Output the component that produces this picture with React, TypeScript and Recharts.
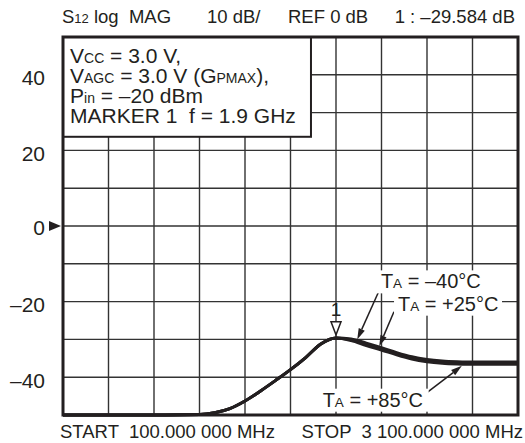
import React from 'react';
import {
  LineChart,
  Line,
  XAxis,
  YAxis,
  CartesianGrid,
  ReferenceArea,
  ReferenceDot,
  ReferenceLine,
} from 'recharts';

// ---- data ----
const freqMHz = [100, 400, 700, 1000, 1100, 1200, 1300, 1400, 1500, 1600, 1700, 1800, 1900, 2000, 2100, 2200, 2300, 2400, 2500, 2600, 2700, 2800, 2900, 3000, 3100];
const s12Plus25 = [-50, -50, -50, -49.9, -49.4, -48.3, -46.3, -43.7, -40.9, -38.0, -34.8, -31.2, -29.6, -30.1, -31.3, -32.5, -33.8, -34.9, -35.6, -36.0, -36.2, -36.3, -36.3, -36.3, -36.3];
const s12Minus40 = [-50, -50, -50, -49.9, -49.4, -48.3, -46.3, -43.7, -40.9, -38.0, -34.8, -31.2, -29.6, -29.9, -31.0, -32.2, -33.5, -34.6, -35.3, -35.7, -35.9, -36.0, -36.0, -36.0, -36.0];
const s12Plus85 = [-50, -50, -50, -49.9, -49.4, -48.3, -46.3, -43.7, -40.9, -38.0, -34.8, -31.2, -29.6, -30.3, -31.6, -32.8, -34.1, -35.2, -35.9, -36.3, -36.5, -36.6, -36.6, -36.6, -36.6];

const xTicks = [100, 400, 700, 1000, 1300, 1600, 1900, 2200, 2500, 2800, 3100];
const yTicks = [-50, -40, -30, -20, -10, 0, 10, 20, 30, 40, 50];
const yLabelValues = [40, 20, 0, -20, -40];

const startLabel = 'START  100.000 000 MHz';
const stopLabel = 'STOP  3 100.000 000 MHz';

const markerFreq = 1900;
const markerValue = -29.584;
const markerName = '1';

// annotation anchors [freq MHz, dB]
const tempLabels = [
  { temp: '–40°C', at: [2196, -16.5], tail: [2190, -16.6], tip: [2040, -30.0], w: 108 },
  { temp: '+25°C', at: [2309, -22.4], tail: [2282, -22.7], tip: [2185, -31.8], w: 108 },
  { temp: '+85°C', at: [1812, -47.8], tail: [2493, -44.3], tip: [2730, -37.0], w: 110 },
];

const boxRange = { x1: 100, x2: 1735, y1: 23.6, y2: 50 };

const rows = freqMHz.map((f, i) => ({
  f,
  t25: s12Plus25[i],
  tm40: s12Minus40[i],
  t85: s12Plus85[i],
}));

const FONT = '"Liberation Sans", Arial, Helvetica, sans-serif';
const INK = '#231f20';

const fmtDb = (v: number) => (v < 0 ? '–' + Math.abs(v) : String(v));

const YTick = (props: any) => {
  const { x, y, payload } = props;
  const v = payload.value;
  if (!yLabelValues.includes(v)) return <g />;
  return (
    <g>
      <text
        x={x - 18}
        y={y + (v === 0 ? 1 : 3)}
        textAnchor="end"
        dominantBaseline="central"
        fontSize={21}
        fontFamily={FONT}
        fill={INK}
      >
        {fmtDb(v)}
      </text>
      {v === 0 && (
        <polygon points={`${x - 14},${y - 5} ${x - 2},${y} ${x - 14},${y + 5}`} fill={INK} />
      )}
    </g>
  );
};

const XTick = (props: any) => {
  const { x, y, payload } = props;
  const v = payload.value;
  if (v === xTicks[0]) {
    return (
      <text x={x - 3} y={y + 23} textAnchor="start" fontSize={18.5} fontFamily={FONT} fill={INK} style={{ whiteSpace: 'pre' }}>
        {startLabel}
      </text>
    );
  }
  if (v === xTicks[xTicks.length - 1]) {
    return (
      <text x={x + 5} y={y + 23} textAnchor="end" fontSize={18.5} fontFamily={FONT} fill={INK} style={{ whiteSpace: 'pre' }}>
        {stopLabel}
      </text>
    );
  }
  return <g />;
};

const Frame = (p: any) => {
  const { x, y, width, height } = p;
  const ty = y - 14;
  const tp = { fontSize: 18.5, fontFamily: FONT, fill: INK };
  return (
    <g>
      <rect x={x} y={y} width={width} height={height} fill="none" stroke={INK} strokeWidth={3} />
      <text x={x - 1} y={ty} {...tp} style={{ whiteSpace: 'pre' }}>
        S<tspan fontSize={13}>12</tspan> log  MAG
      </text>
      <text x={x + 144} y={ty} {...tp}>10 dB/</text>
      <text x={x + 225} y={ty} {...tp}>REF 0 dB</text>
      <text x={x + width - 3} y={ty} textAnchor="end" {...tp}>
        {markerName} : {fmtDb(markerValue)} dB
      </text>
    </g>
  );
};

const InfoBox = (p: any) => {
  const { x, y, width, height } = p;
  const tp = { fontSize: 21, fontFamily: FONT, fill: INK };
  const lx = x + 7;
  return (
    <g>
      <rect x={x} y={y} width={width} height={height} fill="#fff" stroke={INK} strokeWidth={2} />
      <text x={lx} y={y + 26} {...tp}>
        V<tspan fontSize={14}>CC</tspan> = 3.0 V,
      </text>
      <text x={lx} y={y + 46} {...tp}>
        V<tspan fontSize={14}>AGC</tspan> = 3.0 V (G<tspan fontSize={14}>PMAX</tspan>),
      </text>
      <text x={lx} y={y + 66} {...tp}>
        P<tspan fontSize={14}>in</tspan> = –20 dBm
      </text>
      <text x={lx} y={y + 86} {...tp} style={{ whiteSpace: 'pre' }}>
        MARKER 1  f = {markerFreq / 1000} GHz
      </text>
    </g>
  );
};

const makeTempLabel = (temp: string, w: number) => (p: any) => {
  const { cx, cy } = p;
  return (
    <g>
      <rect x={cx - 4} y={cy - 18} width={w} height={23} fill="#fff" />
      <text x={cx} y={cy} fontSize={20} fontFamily={FONT} fill={INK}>
        T<tspan fontSize={13.5}>A</tspan> = {temp}
      </text>
    </g>
  );
};

const Arrow = (p: any) => {
  const { x1, y1, x2, y2 } = p;
  const dx = x2 - x1;
  const dy = y2 - y1;
  const len = Math.hypot(dx, dy) || 1;
  const ux = dx / len;
  const uy = dy / len;
  const hl = 11;
  const hw = 3.3;
  const bx = x2 - ux * hl;
  const by = y2 - uy * hl;
  return (
    <g>
      <line x1={x1} y1={y1} x2={bx} y2={by} stroke={INK} strokeWidth={1.5} />
      <polygon points={`${x2},${y2} ${bx - uy * hw},${by + ux * hw} ${bx + uy * hw},${by - ux * hw}`} fill={INK} />
    </g>
  );
};

const Marker = (p: any) => {
  const { cx, cy } = p;
  return (
    <g>
      <polygon points={`${cx - 5},${cy - 16} ${cx + 5},${cy - 16} ${cx},${cy - 3}`} fill="#fff" stroke={INK} strokeWidth={1.5} />
      <text x={cx} y={cy - 22} textAnchor="middle" fontSize={19} fontFamily={FONT} fill={INK}>
        {markerName}
      </text>
    </g>
  );
};

export default function App() {
  return (
    <div style={{ position: 'absolute', left: 0, top: 0, width: 525, height: 443, background: '#fff' }}>
      <LineChart width={525} height={443} data={rows} margin={{ top: 37, right: 7, bottom: 0, left: 0 }}>
        <CartesianGrid stroke="#333" strokeWidth={1.4} />
        <XAxis
          dataKey="f"
          type="number"
          domain={[100, 3100]}
          ticks={xTicks}
          interval={0}
          height={28}
          axisLine={false}
          tickLine={false}
          tickSize={0}
          tickMargin={0}
          tick={<XTick />}
        />
        <YAxis
          type="number"
          domain={[-50, 50]}
          ticks={yTicks}
          interval={0}
          width={63}
          axisLine={false}
          tickLine={false}
          tickSize={0}
          tickMargin={0}
          tick={<YTick />}
        />
        <ReferenceArea x1={boxRange.x1} x2={boxRange.x2} y1={boxRange.y1} y2={boxRange.y2} shape={<InfoBox />} />
        {tempLabels.map((t) => (
          <ReferenceDot key={'l' + t.temp} x={t.at[0]} y={t.at[1]} r={0} shape={makeTempLabel(t.temp, t.w)} />
        ))}
        {tempLabels.map((t) => (
          <ReferenceLine
            key={'a' + t.temp}
            segment={[{ x: t.tail[0], y: t.tail[1] }, { x: t.tip[0], y: t.tip[1] }]}
            shape={<Arrow />}
          />
        ))}
        <Line dataKey="tm40" type="monotone" stroke={INK} strokeWidth={3} dot={false} isAnimationActive={false} />
        <Line dataKey="t25" type="monotone" stroke={INK} strokeWidth={3} dot={false} isAnimationActive={false} />
        <Line dataKey="t85" type="monotone" stroke={INK} strokeWidth={3} dot={false} isAnimationActive={false} />
        <ReferenceDot x={markerFreq} y={markerValue} r={0} shape={<Marker />} />
        <ReferenceArea x1={100} x2={3100} y1={-50} y2={50} shape={<Frame />} />
      </LineChart>
    </div>
  );
}
